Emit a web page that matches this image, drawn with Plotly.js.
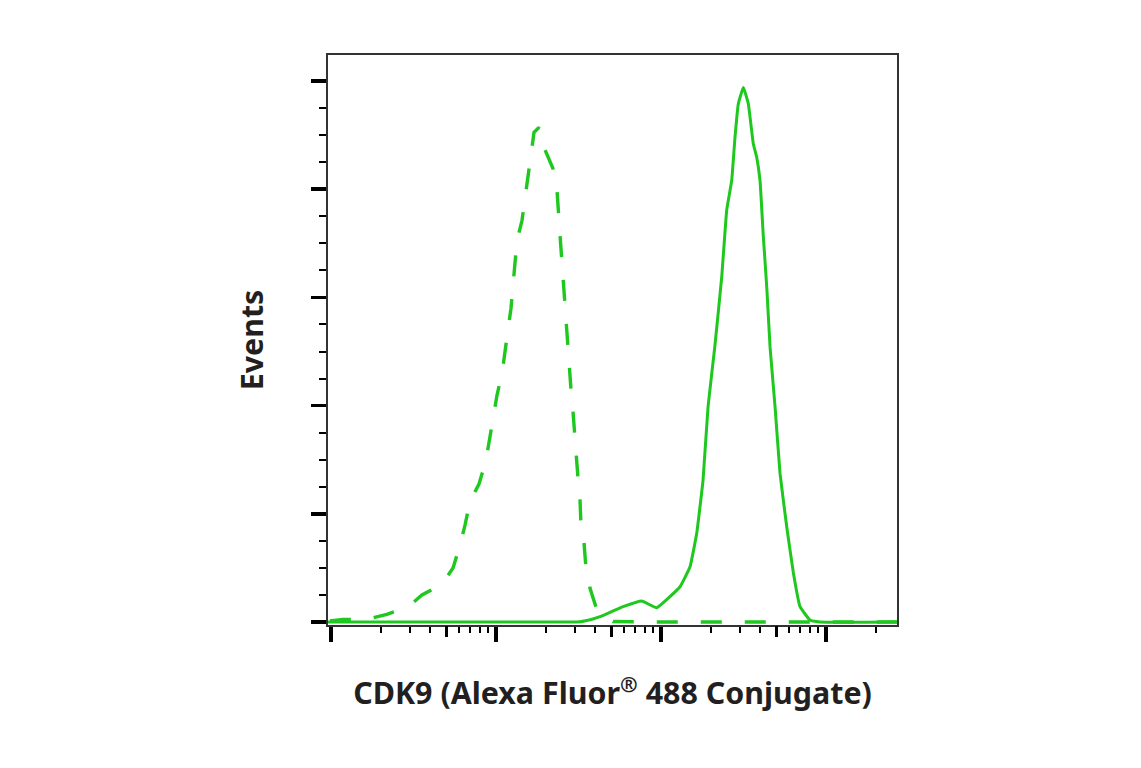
<!DOCTYPE html>
<html>
<head>
<meta charset="utf-8">
<script src="https://cdn.plot.ly/plotly-3.0.1.min.js"></script>
<style>
html,body{margin:0;padding:0;background:#fff;}
#chart{width:1141px;height:768px;}
.xtitle, .ytitle { font-stretch: 75% !important; }
</style>
</head>
<body>
<div id="chart"></div>
<script>
// Isotype control (dashed) – fluorescence intensity vs events
const controlX = [0.986, 1.18, 1.68, 2.18, 2.93, 3.56, 4.71, 5.49, 6.05, 6.49, 6.96, 7.89, 8.70, 9.59, 10.14, 10.88, 11.34, 12.33, 13.03, 13.41, 14.37, 15.63, 16.30, 17.0, 18.22, 19.54, 22.15, 23.4, 24.4, 25.5, 26.6, 27.7, 28.5, 29.3, 30.5, 31.4, 32.3, 32.7, 34.2, 35.1, 37.1, 40.9, 51.2, 100, 1000, 2700];
const controlY = [0.18, 0.46, 0.55, 1.42, 2.77, 4.99, 7.02, 9.97, 14.2, 17.9, 22.3, 25.5, 29.9, 37.9, 41.9, 46.0, 49.9, 58.0, 66.3, 70.5, 74.2, 82.2, 86.6, 90.5, 91.4, 87.7, 83.8, 80.0, 71.8, 63.5, 55.2, 47.1, 42.8, 38.8, 30.7, 26.6, 22.5, 18.3, 14.4, 10.0, 6.28, 2.22, 0.09, 0, 0, 0];
// CDK9 (Alexa Fluor 488 Conjugate) stained (solid)
const stainedX = [0.96, 10, 32.3, 38.7, 42.7, 58.9, 76.4, 94.2, 130.4, 149.9, 164.6, 179.7, 192.8, 212.4, 233.3, 250.0, 268.1, 280.8, 294.1, 315.4, 338.1, 362.4, 380.1, 398.1, 417.0, 437.3, 458.0, 490.9, 526.2, 577.8, 634.2, 695.5, 799.6, 919.6, 2700];
const stainedY = [0, 0, 0.05, 0.55, 0.98, 2.83, 3.88, 2.64, 6.52, 10.2, 16.4, 26.2, 39.8, 51.2, 63.8, 76.1, 81.6, 89.6, 95.8, 98.8, 95.8, 88.4, 85.9, 81.6, 71.2, 61.9, 50.8, 39.8, 27.5, 17.6, 9.05, 2.83, 0.37, 0, 0];

// Axis tick positions
const decades = [1, 10, 100, 1000];
const fives = [5, 50, 500, 5000];
const minorDigits = [2, 3, 4, 6, 7, 8, 9];
const minorVals = [];
decades.forEach(d => minorDigits.forEach(m => minorVals.push(d * m)));

const green = '#1ec81e';
const fontFam = '"Noto Sans", "DejaVu Sans", sans-serif';

const traces = [
  {x: controlX, y: controlY, type: 'scatter', mode: 'lines',
   line: {color: green, width: 3.4, dash: '21px,23px', shape: 'linear'}, hoverinfo: 'skip'},
  {x: stainedX, y: stainedY, type: 'scatter', mode: 'lines',
   line: {color: green, width: 3, shape: 'spline', smoothing: 0.3}, hoverinfo: 'skip'},
  {x: [1], y: [0], xaxis: 'x2', type: 'scatter', mode: 'markers', marker: {opacity: 0}, hoverinfo: 'skip'}
];

const layout = {
  width: 1141, height: 768,
  margin: {l: 328, r: 244, t: 55, b: 143},
  paper_bgcolor: '#fff', plot_bgcolor: '#fff',
  showlegend: false,
  xaxis: {
    type: 'log', range: [-0.018, 3.43],
    showgrid: false, zeroline: false,
    showline: true, linecolor: '#333', linewidth: 2, mirror: true,
    ticks: 'outside', tickvals: decades, ticklen: 15, tickwidth: 3.5, tickcolor: '#000',
    showticklabels: false,
    minor: {tickvals: minorVals, ticks: 'outside', ticklen: 6, tickwidth: 2, tickcolor: '#000', showgrid: false},
    title: {text: 'CDK9 (Alexa Fluor<sup>®</sup> 488 Conjugate)', standoff: 42,
            font: {family: fontFam, size: 30.4, color: '#231f20', weight: 'bold'}}
  },
  xaxis2: {
    type: 'log', range: [-0.018, 3.43], overlaying: 'x', anchor: 'y',
    showgrid: false, zeroline: false, showline: false,
    ticks: 'outside', tickvals: fives, ticklen: 11, tickwidth: 2.5, tickcolor: '#000',
    showticklabels: false
  },
  yaxis: {
    range: [-0.55, 104.8],
    showgrid: false, zeroline: false,
    showline: true, linecolor: '#333', linewidth: 2, mirror: true,
    ticks: 'outside', tick0: 0, dtick: 20, ticklen: 15, tickwidth: 3.5, tickcolor: '#000',
    showticklabels: false,
    minor: {dtick: 5, ticks: 'outside', ticklen: 7, tickwidth: 2, tickcolor: '#000', showgrid: false},
    title: {text: 'Events', standoff: 38,
            font: {family: fontFam, size: 30.4, color: '#231f20', weight: 'bold'}}
  }
};

Plotly.newPlot('chart', traces, layout, {displayModeBar: false, staticPlot: true});
</script>
</body>
</html>
